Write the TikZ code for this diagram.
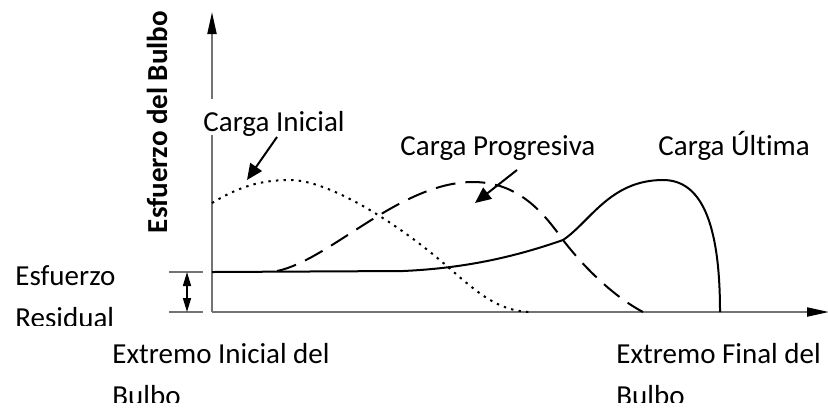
\documentclass[tikz,border=0pt]{standalone}
\usepackage{fontspec}
\setmainfont[Ligatures=NoCommon]{Carlito}
\usetikzlibrary{arrows.meta}
\definecolor{ejegris}{gray}{0.45}
\tikzset{
  eje/.style={ejegris,line width=1pt,-{Triangle[length=11pt,width=4.5pt,black]}},
  marca/.style={ejegris,line width=1pt},
  curva/.style={black,line width=1pt},
  flecha/.style={black,line width=1pt,-{Triangle[length=8pt,width=7pt]}},
  etiq/.style={font=\fontsize{14.5}{18}\selectfont,inner sep=0pt}
}
\begin{document}
\begin{tikzpicture}[x=0.5pt,y=-0.5pt]
	\useasboundingbox (0,0) rectangle (828,409);
	\coordinate (O) at (212,312);
	\coordinate (Y) at (212,12);
	\coordinate (X) at (829,312);
	\coordinate (R1) at (169,272);
	\coordinate (R2) at (169,312);
	% ejes
	\draw[eje] (O) -- (Y);
	\draw[eje] (O) -- (X);
	% esfuerzo residual
	\draw[marca] (R1) -- ++(34,0);
	\draw[marca] (R2) -- ++(34,0);
	\draw[black,line width=0.8pt,{Triangle[length=7pt,width=4pt]}-{Triangle[length=7pt,width=4pt]}] (187,272) -- (187,312);
	% carga inicial (punteada)
	\draw[curva,dash pattern=on 1.2pt off 2.6pt] (212,203) .. controls (240,186) and (262,180) .. (290,180)
		.. controls (330,180) and (400,225) .. (448,267)
		.. controls (480,295) and (500,312) .. (533,312);
	% carga progresiva (discontinua)
	\draw[curva,dash pattern=on 10pt off 5pt] (277,271) .. controls (330,260) and (400,182) .. (473,182)
		.. controls (520,182) and (545,215) .. (563,240)
		.. controls (590,275) and (620,300) .. (643,312);
	% carga ultima (continua)
	\draw[curva] (212,272) -- (403,271) .. controls (470,268) and (520,255) .. (563,240)
		.. controls (590,222) and (610,180) .. (663,180)
		.. controls (700,180) and (720,220) .. (720,312);
	% etiquetas
	\node[etiq,rotate=90,font=\fontsize{14.5}{18}\selectfont\bfseries] (ejey) at (157,122) {Esfuerzo del Bulbo};
	\node[etiq,fill=white,anchor=base west,text height=16pt,text depth=2pt] (inicial) at (203,131) {Carga Inicial};
	\node[etiq,anchor=base west] (progresiva) at (400,155) {Carga Progresiva};
	\node[etiq,anchor=base west] (ultima) at (658,155) {Carga Última};
	\node[etiq,anchor=base west] (esf) at (15,285) {Esfuerzo};
	\node[etiq,anchor=base west] (extini) at (112,363) {Extremo Inicial del};
	\node[etiq,anchor=base west] (extfin) at (616,363) {Extremo Final del};
	\begin{scope}
		\clip (0,290) rectangle (160,325);
		\node[etiq,anchor=base west] (resid) at (15,327) {Residual};
	\end{scope}
	\begin{scope}
		\clip (0,370) rectangle (828,402);
		\node[etiq,anchor=base west] (bulboini) at (112,405) {Bulbo};
		\node[etiq,anchor=base west] (bulbofin) at (616,405) {Bulbo};
	\end{scope}
	% flechas
	\coordinate (pi) at (247,180);
	\coordinate (pp) at (475,203);
	\draw[flecha] (277,137) -- (pi);
	\draw[flecha] (517,170) -- (pp);
\end{tikzpicture}
\end{document}
